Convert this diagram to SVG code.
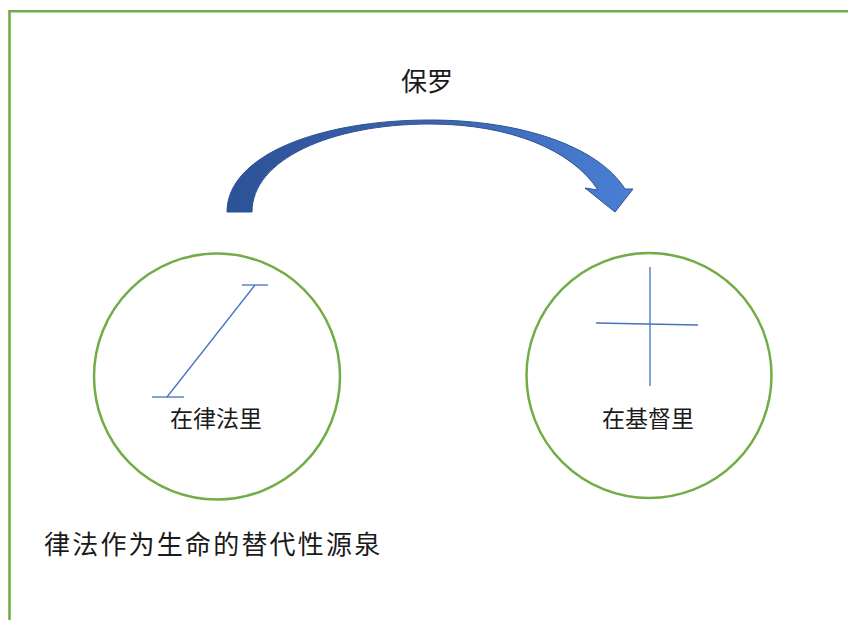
<svg xmlns="http://www.w3.org/2000/svg" width="848" height="620" viewBox="0 0 848 620">
  <defs>
    <linearGradient id="arrowGrad" x1="0" y1="0" x2="1" y2="0">
      <stop offset="0" stop-color="#2c5296"/>
      <stop offset="0.5" stop-color="#3a64b0"/>
      <stop offset="1" stop-color="#4a7fd6"/>
    </linearGradient>
  </defs>
  <style>
    .frame { fill: none; stroke: #70ad47; stroke-width: 2.6; }
    .ring { fill: none; stroke: #70ad47; stroke-width: 2.5; }
    .sym { fill: none; stroke: #4472c4; stroke-width: 1.3; }
    .lbl { font-family: "Noto Sans CJK SC", "Liberation Sans", sans-serif; fill: #1a1a1a; }
  </style>
  <rect width="848" height="620" fill="#ffffff"/>
  <polyline class="frame" points="9.5,622 9.5,11.3 850,11.3"/>

  <g id="connectors">
    <path d="M227,212 C227,155 320,120 430,120 C520,120 598,146 625,189 L633,189 L615,212 L585,188 L598,190 C572,150 510,124 430,124 C330,124 252,160 252,212 Z" fill="url(#arrowGrad)" stroke="#2f528f" stroke-width="1"/>
  </g>

  <g id="paul">
    <text class="lbl" x="427" y="91" font-size="26" text-anchor="middle">保罗</text>
  </g>

  <g id="in-law">
    <circle class="ring" cx="217" cy="376.5" r="123"/>
    <line class="sym" x1="167" y1="397" x2="255" y2="285"/>
    <line class="sym" x1="242" y1="285" x2="268" y2="285"/>
    <line class="sym" x1="152" y1="397" x2="184" y2="397"/>
    <text class="lbl" x="216" y="427" font-size="23" text-anchor="middle">在律法里</text>
  </g>

  <g id="in-christ">
    <circle class="ring" cx="649" cy="375.5" r="122.5"/>
    <line class="sym" x1="650" y1="267" x2="650" y2="386"/>
    <line class="sym" x1="596" y1="323" x2="698" y2="325"/>
    <text class="lbl" x="648" y="427" font-size="23" text-anchor="middle">在基督里</text>
  </g>

  <g id="caption">
    <text class="lbl" x="44" y="554" font-size="26" letter-spacing="2.2">律法作为生命的替代性源泉</text>
  </g>
</svg>
